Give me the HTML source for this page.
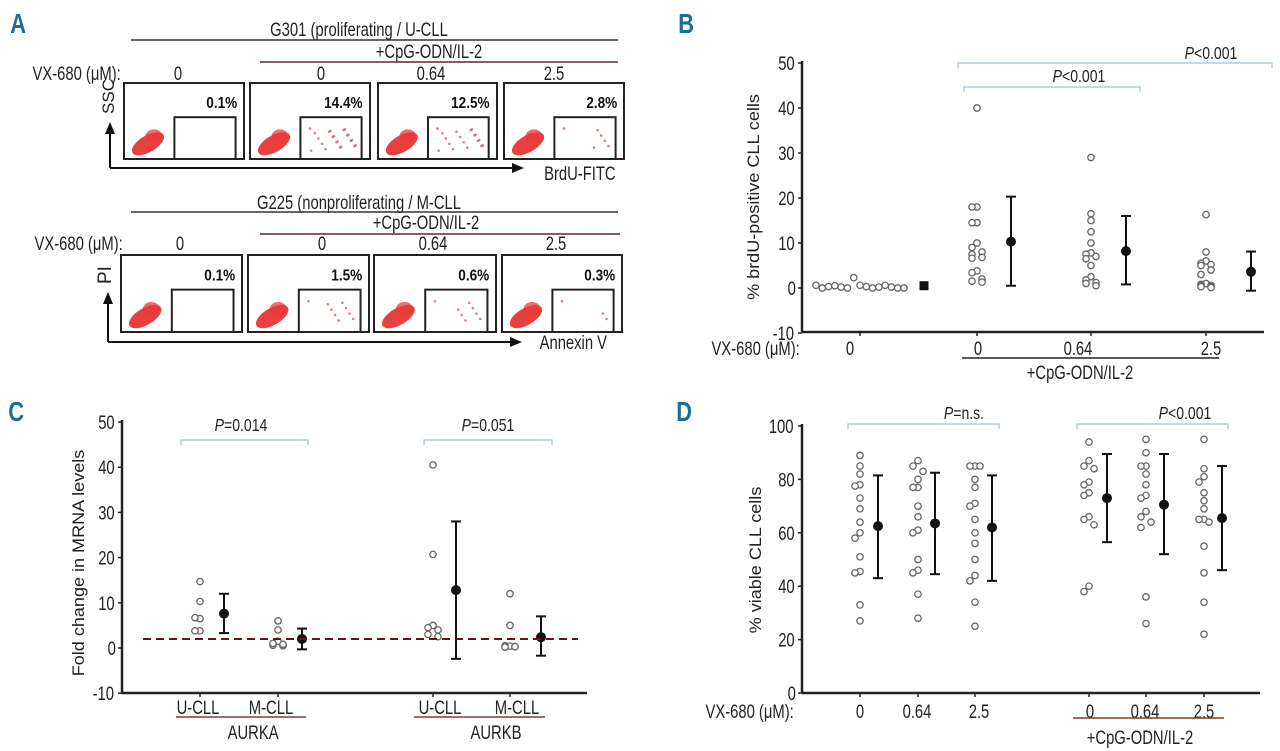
<!DOCTYPE html>
<html><head><meta charset="utf-8"><style>
html,body{margin:0;padding:0;background:#fff;}
svg{display:block;font-family:"Liberation Sans",sans-serif;}
.lbl{font-size:19px;fill:#222;transform-box:fill-box;transform-origin:center;transform:scaleX(0.78);}
.rot{font-size:19px;fill:#222;}
.pl{font-size:18px;fill:#222;transform-box:fill-box;transform-origin:center;transform:scaleX(0.78);}
.pct{font-size:16px;font-weight:bold;fill:#111;transform-box:fill-box;transform-origin:center;transform:scaleX(0.85);}
.letter{font-size:28px;font-weight:bold;fill:#1a6e9a;transform-box:fill-box;transform-origin:center;transform:scaleX(0.78);}
</style></head><body>
<svg id="fig" width="1280" height="751" viewBox="0 0 1280 751" xmlns="http://www.w3.org/2000/svg">
<g>
<text class="letter" x="8" y="33">A</text>
<text class="lbl" x="359" y="36" text-anchor="middle">G301 (proliferating / U-CLL</text>
<line x1="131" y1="40" x2="618" y2="40" stroke="#333" stroke-width="1.5"/>
<text class="lbl" x="429" y="58" text-anchor="middle">+CpG-ODN/IL-2</text>
<line x1="260" y1="62" x2="618" y2="62" stroke="#5a2a2a" stroke-width="1.5"/>
<text class="lbl" x="20" y="80">VX-680 (μM):</text>
<text class="lbl" x="178" y="80" text-anchor="middle">0</text>
<text class="lbl" x="321" y="80" text-anchor="middle">0</text>
<text class="lbl" x="431" y="80" text-anchor="middle">0.64</text>
<text class="lbl" x="554" y="80" text-anchor="middle">2.5</text>
<g id="topBoxes"></g>
<line x1="110" y1="168" x2="516" y2="168" stroke="#111" stroke-width="2"/>
<polygon points="524,168 512,163 512,173" fill="#111"/>
<line x1="110" y1="168" x2="110" y2="131" stroke="#111" stroke-width="2"/>
<polygon points="110,122 105,134 115,134" fill="#111"/>
<text class="rot" x="0" y="0" transform="translate(114,114) rotate(-90) scale(0.9,0.85)">SSC</text>
<text class="lbl" x="534" y="180">BrdU-FITC</text>
<text class="lbl" x="359" y="209" text-anchor="middle">G225 (nonproliferating / M-CLL</text>
<line x1="131" y1="212" x2="618" y2="212" stroke="#333" stroke-width="1.5"/>
<text class="lbl" x="426" y="229" text-anchor="middle">+CpG-ODN/IL-2</text>
<line x1="260" y1="234" x2="620" y2="234" stroke="#5a2a2a" stroke-width="1.5"/>
<text class="lbl" x="22" y="250">VX-680 (μM):</text>
<text class="lbl" x="180" y="250" text-anchor="middle">0</text>
<text class="lbl" x="322" y="250" text-anchor="middle">0</text>
<text class="lbl" x="433" y="250" text-anchor="middle">0.64</text>
<text class="lbl" x="556" y="250" text-anchor="middle">2.5</text>
<g id="botBoxes"></g>
<line x1="108" y1="342" x2="514" y2="342" stroke="#111" stroke-width="2"/>
<polygon points="522,342 510,337 510,347" fill="#111"/>
<line x1="108" y1="342" x2="108" y2="301" stroke="#111" stroke-width="2"/>
<polygon points="108,292 103,304 113,304" fill="#111"/>
<text class="rot" x="0" y="0" transform="translate(111,284) rotate(-90)">PI</text>
<text class="lbl" x="530" y="349">Annexin V</text>
</g>
<g id="panelB"></g>
<g id="panelC"></g>
<g id="panelD"></g>
</svg>
<script>
// ---- Panel A data
const topPercents = ["0.1%","14.4%","12.5%","2.8%"];
const botPercents = ["0.1%","1.5%","0.6%","0.3%"];
// ---- Panel B data
const bCats = ["0","0","0.64","2.5"];
const bPts0 = [0.6,0,0.3,0.5,0.2,0,2.3,0.6,0.3,0,0.2,0.6,0.2,0,0];
const bPts1 = [40,18,18,14.5,14.5,10,9,8,7.5,6.8,6.6,3.8,3.4,2,1.5,1.3];
const bPts2 = [29,16.5,15,12.5,10,7.8,7.5,7,6.5,5,2.5,1.8,1.2,1,0.5];
const bPts3 = [16.3,8,6,5.5,5.2,5,4,3,1,0.8,0.6,0.5,0.3,0.3,0.1];
const bMeans = [0.5,10.3,8.2,3.6];
const bLow = [0.5,0.5,0.8,-0.6];
const bHigh = [0.5,20.3,16,8.1];
const bTicks = [50,40,30,20,10,0,-10];
// ---- Panel C data
const cCats = ["U-CLL","M-CLL","U-CLL","M-CLL"];
const cPts0 = [14.7,10.3,6.5,6.7,3.8,3.8];
const cPts1 = [6,4,1.5,0.8,0.5,0.6,0.8,1];
const cPts2 = [40.5,20.7,5,4.5,4,3,2.5];
const cPts3 = [12,5,0.4,0.5,0.3,0.2,0.3];
const cMeans = [7.6,2,12.8,2.4];
const cLow = [3.3,-0.3,-2.4,-1.7];
const cHigh = [12,4.3,28,7];
const cRef = 2;
const cTicks = [50,40,30,20,10,0,-10];
// ---- Panel D data
const dCats = ["0","0.64","2.5","0","0.64","2.5"];
const dPts0 = [89,85,82,78,77.5,73,69,64,60,58,51,45.5,45,33,27];
const dPts1 = [87,85,83,80,77,77,70,66,61,60,50,46,45,37,28];
const dPts2 = [85,85,85,80,77,71,70,65,60,56,50,44,42,34,25];
const dPts3 = [94,87,85,84,79,78,75,74,66,65,63,40,38];
const dPts4 = [95,90,85,85,82,78,74,73,68,66,64,62,36,26];
const dPts5 = [95,84,81,79,75,72,69,65,65,64,55,45,34,22];
const dMeans = [62.5,63.5,62,73,70.5,65.5];
const dLow = [43,44.5,42,56.5,52,46];
const dHigh = [81.5,82.5,81.5,89.5,89.5,85];
const dTicks = [100,80,60,40,20,0];

const NS="http://www.w3.org/2000/svg";
function mk(parent,tag,attrs,text){const e=document.createElementNS(NS,tag);for(const k in attrs)e.setAttribute(k,attrs[k]);if(text!==undefined)e.textContent=text;parent.appendChild(e);return e;}

function flowRow(gid,xs,y0,y1,pcts){
  const g=document.getElementById(gid);
  xs.forEach((bx,i)=>{
    const w=bx[1]-bx[0],h=y1-y0;
    const box=mk(g,'rect',{x:bx[0],y:y0,width:w,height:h,fill:'#fff',stroke:'#222','stroke-width':2});
    
    
    const ex=bx[0]+w*0.2, ey=y0+h*0.8;
    mk(g,'ellipse',{cx:ex,cy:ey,rx:w*0.15,ry:h*0.11,fill:'#e62a2a',opacity:0.9,transform:`rotate(-30 ${ex} ${ey})`});
    mk(g,'ellipse',{cx:ex+w*0.05,cy:ey-h*0.1,rx:w*0.07,ry:h*0.09,fill:'#ec3a3a',opacity:0.75});
    const gate=mk(g,'rect',{x:bx[0]+w*0.42,y:y0+h*0.45,width:w*0.51,height:h*0.55,fill:'none',stroke:'#222','stroke-width':2});
    
    
    const n=[0,22,18,6][i]*(gid==='topBoxes'?1:0.4);
    for(let k=0;k<n;k++){
      mk(g,'circle',{cx:bx[0]+w*(0.5+((k*37)%40)/100),cy:y0+h*(0.6+((k*23)%30)/100),r:1.3,fill:'#e04050',opacity:0.7});
    }
    const t=mk(g,'text',{class:'pct',x:bx[1]-4,y:y0+h*0.33,'text-anchor':'end'},pcts[i]);
    
    
  });
}
flowRow('topBoxes',[[124,244],[250,370],[378,497],[504,624]],83,159,topPercents);
flowRow('botBoxes',[[121,242],[248,369],[374,496],[502,622]],255,332,botPercents);

function scatterPanel(o){
  const g=document.getElementById(o.id);
  const y=v=>o.y0+(v-o.vmin)*(o.y1-o.y0)/(o.vmax-o.vmin);
  mk(g,'line',{x1:o.ax,y1:y(o.vmax)-2,x2:o.ax,y2:o.axY,stroke:'#222','stroke-width':2.5});
  mk(g,'line',{x1:o.ax,y1:o.axY,x2:o.axEnd,y2:o.axY,stroke:'#222','stroke-width':2.5});
  o.ticks.forEach(t=>{
    mk(g,'line',{x1:o.ax-4,y1:y(t),x2:o.ax,y2:y(t),stroke:'#222','stroke-width':1.5});
    const tl=mk(g,'text',{class:'lbl',x:o.ax-5,y:y(t)+7,'text-anchor':'end'},String(t));
    
    
  });
  o.groups.forEach((pts,gi)=>{
    const cx=o.px[gi];
    mk(g,'line',{x1:cx,y1:o.axY,x2:cx,y2:o.axY+4,stroke:'#222','stroke-width':1.5});
    let side=1,prev=null;
    pts.forEach((v,k)=>{
      let dx=0;
      if(o.spread&&o.spread[gi]){dx=-o.spread[gi]+2*o.spread[gi]*k/(pts.length-1);}
      else{ if(prev!==null&&Math.abs(v-prev)<(o.close||2)){side=-side;dx=side*5;}else{side=1;dx=0;} }
      prev=v;
      const c=mk(g,'circle',{cx:cx+dx,cy:y(v),r:3.2,fill:'#fff',stroke:'#666','stroke-width':1.3});
      
      
    });
    const mx=o.mx[gi];
    const lo=o.low[gi],hi=o.high[gi];
    if(hi!==lo){
      mk(g,'line',{x1:mx,y1:y(hi),x2:mx,y2:y(lo),stroke:'#111','stroke-width':2});
      mk(g,'line',{x1:mx-5,y1:y(hi),x2:mx+5,y2:y(hi),stroke:'#111','stroke-width':2});
      mk(g,'line',{x1:mx-5,y1:y(lo),x2:mx+5,y2:y(lo),stroke:'#111','stroke-width':2});
    }
    const m=o.squareFirst&&gi===0?mk(g,'rect',{x:mx-4.5,y:y(o.means[gi])-4.5,width:9,height:9,fill:'#111'}):mk(g,'circle',{cx:mx,cy:y(o.means[gi]),r:5,fill:'#111'});
    
    
  });
  return y;
}
function bracket(g,x1,x2,yy,label,lx,ly){
  mk(g,'path',{d:`M${x1},${yy+5}V${yy}H${x2}V${yy+5}`,fill:'none',stroke:'#9cc3d6','stroke-width':1.2});
  const t=mk(g,'text',{class:'pl',x:lx,y:ly,'text-anchor':'middle'});
  mk(t,'tspan',{'font-style':'italic'},'P');
  mk(t,'tspan',{},label);
  
  
}

(function(){
  const g=document.getElementById('panelB');
  mk(g,'text',{class:'letter',x:676,y:33},'B');
  scatterPanel({id:'panelB',ax:802,axY:332,axEnd:1264,y0:288,y1:63,vmin:0,vmax:50,ticks:bTicks,
    groups:[bPts0,bPts1,bPts2,bPts3],px:[860,977,1091,1206],mx:[924,1011,1126,1251],
    means:bMeans,low:bLow,high:bHigh,spread:[44,0,0,0],squareFirst:true,close:1.5});
  const yt=mk(g,'text',{class:'rot',transform:'translate(759,197) rotate(-90) scale(0.95,0.85)','text-anchor':'middle'},'% brdU-positive CLL cells');
  
  
  mk(g,'text',{class:'lbl',x:699,y:355},'VX-680 (μM):');
  const lx=[850,978,1078,1211];
  bCats.forEach((c,i)=>{const t=mk(g,'text',{class:'lbl',x:lx[i],y:355,'text-anchor':'middle'},c);
    });
  mk(g,'line',{x1:962,y1:358,x2:1219,y2:358,stroke:'#222','stroke-width':1.5});
  mk(g,'text',{class:'lbl',x:1080,y:379,'text-anchor':'middle'},'+CpG-ODN/IL-2');
  bracket(g,958,1272,63,'<0.001',1211,59);
  bracket(g,964,1140,87,'<0.001',1079,82);
})();

(function(){
  const g=document.getElementById('panelC');
  mk(g,'text',{class:'letter',x:6,y:421},'C');
  const y=scatterPanel({id:'panelC',ax:122,axY:693,axEnd:587,y0:648,y1:422,vmin:0,vmax:50,ticks:cTicks,
    groups:[cPts0,cPts1,cPts2,cPts3],px:[200,278,433,510],mx:[224,302,456,541],
    means:cMeans,low:cLow,high:cHigh,close:2});
  const rl=mk(g,'line',{x1:143,y1:y(cRef),x2:578,y2:y(cRef),stroke:'#5a1a1a','stroke-width':2,'stroke-dasharray':'8,5'});
  
  
  const yt=mk(g,'text',{class:'rot',transform:'translate(84,563) rotate(-90) scale(0.95,0.85)','text-anchor':'middle'},'Fold change in MRNA levels');
  
  
  const lx=[198,271,440,517];
  cCats.forEach((c,i)=>{const t=mk(g,'text',{class:'lbl',x:lx[i],y:714,'text-anchor':'middle'},c);
    });
  mk(g,'line',{x1:176,y1:717,x2:306,y2:717,stroke:'#8a3a2a','stroke-width':1.5});
  mk(g,'line',{x1:414,y1:717,x2:545,y2:717,stroke:'#8a3a2a','stroke-width':1.5});
  mk(g,'text',{class:'lbl',x:253,y:739,'text-anchor':'middle'},'AURKA');
  mk(g,'text',{class:'lbl',x:496,y:739,'text-anchor':'middle'},'AURKB');
  bracket(g,181,308,440,'=0.014',241,431);
  bracket(g,424,552,440,'=0.051',488,431);
})();

(function(){
  const g=document.getElementById('panelD');
  mk(g,'text',{class:'letter',x:674,y:421},'D');
  scatterPanel({id:'panelD',ax:802,axY:693,axEnd:1260,y0:693,y1:426,vmin:0,vmax:100,ticks:dTicks,
    groups:[dPts0,dPts1,dPts2,dPts3,dPts4,dPts5],px:[860,918,975,1089,1146,1204],mx:[878,935,992,1107,1164,1222],
    means:dMeans,low:dLow,high:dHigh,close:2.5});
  const yt=mk(g,'text',{class:'rot',transform:'translate(761,560) rotate(-90) scale(0.95,0.85)','text-anchor':'middle'},'% viable CLL cells');
  
  
  mk(g,'text',{class:'lbl',x:693,y:718},'VX-680 (μM):');
  const lx=[860,917,979,1090,1145,1204];
  dCats.forEach((c,i)=>{const t=mk(g,'text',{class:'lbl',x:lx[i],y:718,'text-anchor':'middle'},c);
    });
  mk(g,'line',{x1:1073,y1:718,x2:1224,y2:718,stroke:'#8a3a2a','stroke-width':1.5});
  mk(g,'text',{class:'lbl',x:1140,y:744,'text-anchor':'middle'},'+CpG-ODN/IL-2');
  bracket(g,848,999,424,'=n.s.',964,419);
  bracket(g,1077,1228,424,'<0.001',1185,419);
})();
</script>
</body></html>
